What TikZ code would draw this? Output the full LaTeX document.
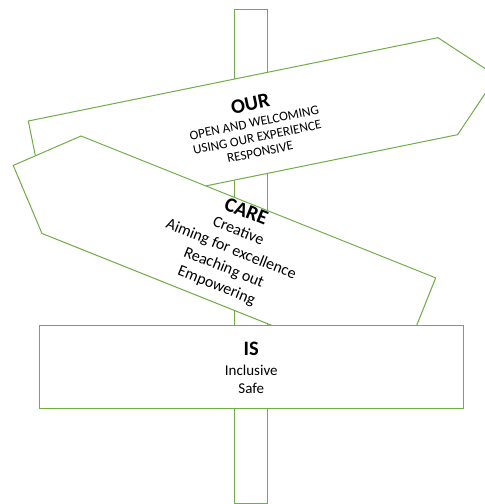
\documentclass[tikz,border=0pt]{standalone}
\usepackage{fontspec}
\setmainfont{Carlito}
\definecolor{signgreen}{RGB}{112,173,71}
\begin{document}
\begin{tikzpicture}[x=1pt,y=-1pt,
  signline/.style={draw=signgreen, line width=1pt, fill=white, line join=miter},
  headtext/.style={font=\fontsize{20.5}{24}\selectfont\bfseries, anchor=base, inner sep=0pt},
  ourtext/.style={font=\fontsize{13.2}{15}\selectfont, anchor=base, inner sep=0pt},
  caretext/.style={font=\fontsize{16}{19.5}\selectfont, anchor=base, inner sep=0pt},
  istext/.style={font=\fontsize{15}{18}\selectfont, anchor=base, inner sep=0pt}]
\useasboundingbox (0,0) rectangle (485,504);
\clip (0,0) rectangle (485,504);
% post
\draw[signline] (234,9.3) rectangle (267,503.5);
% OUR sign
\begin{scope}[shift={(28.3,121)}, rotate=11.5]
  \draw[signline] (0,0) -- (418,0) -- (468,49.5) -- (418,99) -- (0,99) -- cycle;
  \node[headtext, transform shape] (our) at (221,34) {OUR};
  \node[ourtext, transform shape] (our1) at (221,51) {OPEN AND WELCOMING};
  \node[ourtext, transform shape] (our2) at (221,66) {USING OUR EXPERIENCE};
  \node[ourtext, transform shape] (our3) at (221,81) {RESPONSIVE};
\end{scope}
% CARE sign
\begin{scope}[shift={(81,136)}, rotate=-21.8]
  \draw[signline] (0,0) -- (382,0) -- (382,105) -- (0,105) -- (-52,52.5) -- cycle;
  \node[headtext, transform shape] (care) at (181.5,15) {CARE};
  \node[caretext, transform shape] (care1) at (181.5,34.6) {Creative};
  \node[caretext, transform shape] (care2) at (181.5,54.1) {Aiming for excellence};
  \node[caretext, transform shape] (care3) at (181.5,73.6) {Reaching out};
  \node[caretext, transform shape] (care4) at (181.5,93.1) {Empowering};
\end{scope}
% IS sign
\draw[signline] (39.3,325) rectangle (463.3,408.3);
\node[headtext] (is) at (251.3,355) {IS};
\node[istext] (is1) at (251.3,375) {Inclusive};
\node[istext] (is2) at (251.3,393.3) {Safe};
\end{tikzpicture}
\end{document}
